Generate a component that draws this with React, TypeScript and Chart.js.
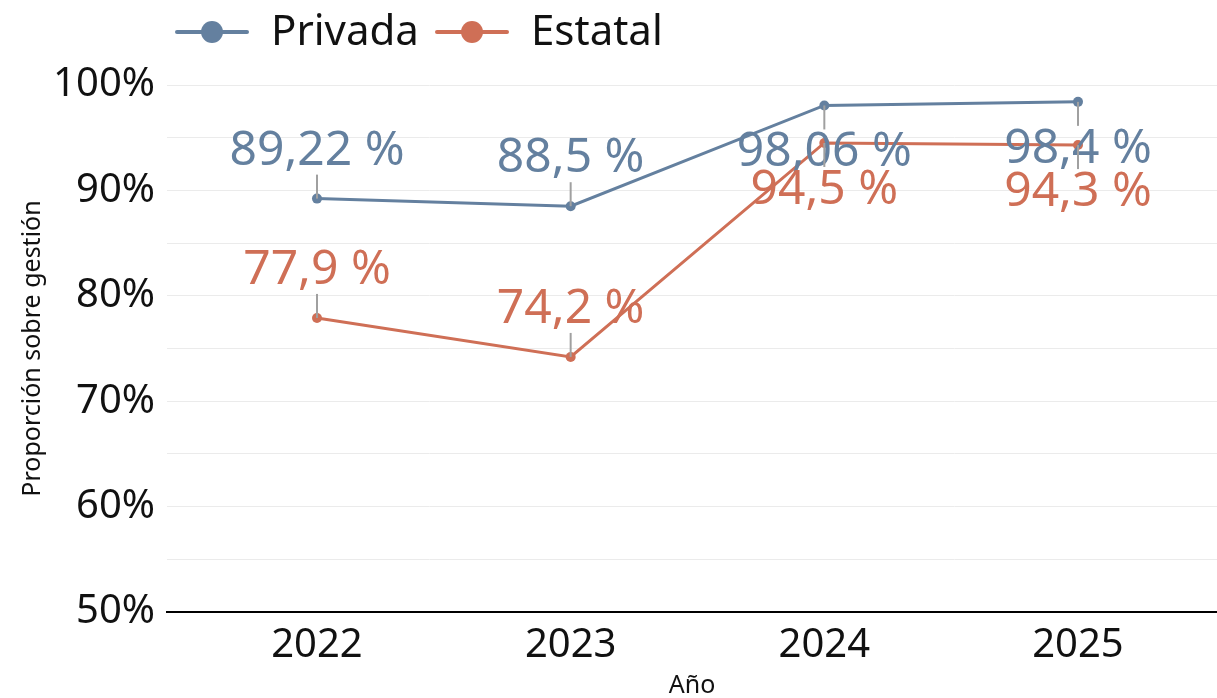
import React, { useEffect, useRef } from "react";
import { Chart, registerables } from "chart.js";

Chart.register(...registerables);

const years = [2022, 2023, 2024, 2025];
const privada = [89.22, 88.5, 98.06, 98.4];
const estatal = [77.9, 74.2, 94.5, 94.3];
const yTicks = [50, 60, 70, 80, 90, 100];
const labelSide = ["above", "above", "below", "below"];

const BLUE = "#64809f";
const ORANGE = "#cf6f56";
const FONT = "'Noto Sans', sans-serif";

const fmt = (v: number) => String(v).replace(".", ",") + " %";

const labelsPlugin = {
  id: "pointLabels",
  afterDatasetsDraw(chart: any) {
    const ctx = chart.ctx;
    chart.data.datasets.forEach((ds: any, di: number) => {
      const meta = chart.getDatasetMeta(di);
      meta.data.forEach((pt: any, i: number) => {
        const x = pt.x;
        const y = pt.y;
        const up = labelSide[i] === "above";
        ctx.save();
        ctx.strokeStyle = "#a0a0a0";
        ctx.lineWidth = 2;
        ctx.beginPath();
        ctx.moveTo(x, y);
        ctx.lineTo(x, up ? y - 24 : y + 24);
        ctx.stroke();
        ctx.fillStyle = ds.borderColor;
        ctx.font = `48px ${FONT}`;
        ctx.textAlign = "center";
        ctx.textBaseline = "alphabetic";
        ctx.fillText(fmt(ds.data[i].y), x, up ? y - 34 : y + 61);
        ctx.restore();
      });
    });
  },
};

const legendPlugin = {
  id: "customLegend",
  afterDraw(chart: any) {
    const ctx = chart.ctx;
    const items = [
      { text: "Privada", color: BLUE, x: 177 },
      { text: "Estatal", color: ORANGE, x: 437 },
    ];
    items.forEach((it) => {
      ctx.save();
      ctx.strokeStyle = it.color;
      ctx.lineWidth = 4;
      ctx.lineCap = "round";
      ctx.beginPath();
      ctx.moveTo(it.x, 32);
      ctx.lineTo(it.x + 70, 32);
      ctx.stroke();
      ctx.fillStyle = it.color;
      ctx.beginPath();
      ctx.arc(it.x + 35, 32, 11, 0, Math.PI * 2);
      ctx.fill();
      ctx.fillStyle = "#111";
      ctx.font = `42px ${FONT}`;
      ctx.textAlign = "left";
      ctx.textBaseline = "alphabetic";
      ctx.fillText(it.text, it.x + 94, 45);
      ctx.restore();
    });
  },
};

export default function App() {
  const ref = useRef<HTMLCanvasElement | null>(null);

  useEffect(() => {
    document.body.style.margin = "0";
    const canvas = ref.current;
    if (!canvas) return;
    const series = [
      { label: "Privada", values: privada, color: BLUE },
      { label: "Estatal", values: estatal, color: ORANGE },
    ];
    const chart = new Chart(canvas, {
      type: "line",
      data: {
        datasets: series.map((s) => ({
          label: s.label,
          data: years.map((y, i) => ({ x: y, y: s.values[i] })),
          borderColor: s.color,
          backgroundColor: s.color,
          borderWidth: 3,
          pointRadius: 5,
          pointBorderWidth: 0,
          tension: 0,
        })) as any,
      },
      options: {
        animation: false,
        responsive: false,
        layout: { autoPadding: false, padding: { top: 85, left: 0, right: 0, bottom: 0 } },
        plugins: {
          legend: { display: false },
          tooltip: { enabled: false },
        },
        scales: {
          x: {
            type: "linear",
            min: 2021.4087,
            max: 2025.548,
            afterBuildTicks: (scale: any) => {
              scale.ticks = years.map((v) => ({ value: v }));
            },
            afterFit: (scale: any) => {
              scale.height = 86;
              scale.paddingLeft = 0;
              scale.paddingRight = 0;
            },
            grid: { display: false, drawTicks: false },
            border: { display: true, color: "#000", width: 2 },
            ticks: {
              autoSkip: false,
              maxRotation: 0,
              padding: 10,
              color: "#111",
              font: { family: FONT, size: 40 },
              callback: (v: any) => String(v),
            },
            title: {
              display: true,
              text: "Año",
              color: "#111",
              font: { family: FONT, size: 25, lineHeight: 1 },
              padding: { top: 0, bottom: 0 },
            },
          },
          y: {
            min: 50,
            max: 100,
            afterBuildTicks: (scale: any) => {
              const t: any[] = [];
              for (let v = 50; v <= 100; v += 5) t.push({ value: v });
              scale.ticks = t;
            },
            afterFit: (scale: any) => {
              scale.width = 167;
            },
            grid: { color: "#ebebeb", lineWidth: 1, drawTicks: false },
            border: { display: false },
            ticks: {
              autoSkip: false,
              padding: 12,
              color: "#111",
              font: { family: FONT, size: 40 },
              callback: (v: any) => (yTicks.includes(Number(v)) ? `${v}%` : ""),
            },
            title: {
              display: true,
              text: "Proporción sobre gestión",
              color: "#111",
              font: { family: FONT, size: 25, lineHeight: 1 },
              padding: { top: 20, bottom: 0 },
            },
          },
        },
      },
      plugins: [labelsPlugin, legendPlugin],
    });
    return () => chart.destroy();
  }, []);

  return (
    <div style={{ position: "absolute", left: 0, top: 0, width: 1217, height: 698, background: "#fff" }}>
      <canvas ref={ref} width={1217} height={698} />
    </div>
  );
}
